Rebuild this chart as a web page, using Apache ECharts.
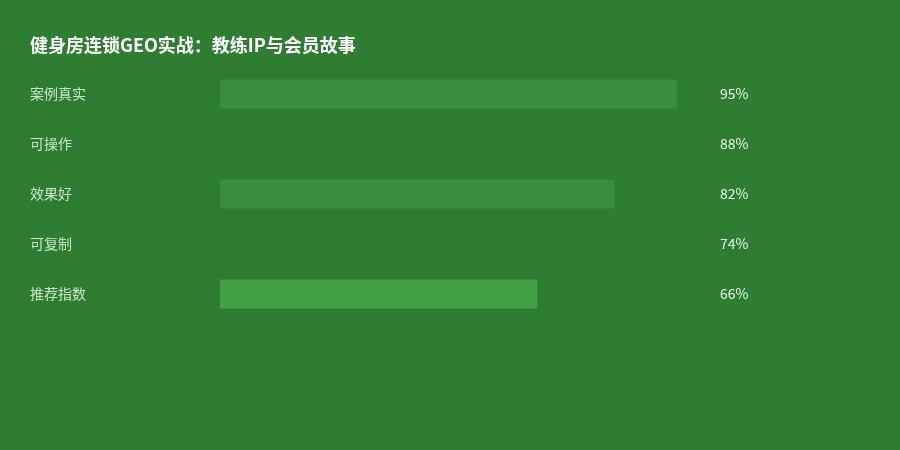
<!DOCTYPE html>
<html><head><meta charset="utf-8">
<script src="https://cdn.jsdelivr.net/npm/echarts@6/dist/echarts.min.js"></script>
<style>html,body{margin:0;padding:0;background:#2e7d32}#c{width:900px;height:450px}</style>
</head><body><div id="c"></div>
<script>
const titleText = '健身房连锁GEO实战：教练IP与会员故事';
const categories = ['案例真实', '可操作', '效果好', '可复制', '推荐指数'];
const values = [95, 88, 82, 74, 66];
const barColors = ['#388e3c', '#2e7d32', '#388e3c', '#2e7d32', '#43a047'];

const chart = echarts.init(document.getElementById('c'));
chart.setOption({
  backgroundColor: '#2e7d32',
  animation: false,
  title: {
    text: titleText, left: 25, top: 31,
    textStyle: { color: '#ffffff', fontSize: 18, fontWeight: 'bold', fontFamily: 'Noto Sans CJK SC' }
  },
  grid: { left: 220, right: 199, top: 69, bottom: 131 },
  xAxis: { type: 'value', min: 0, max: 100, show: false },
  yAxis: [{
    type: 'category', inverse: true, data: categories,
    axisLine: { show: false }, axisTick: { show: false }, splitLine: { show: false },
    axisLabel: { color: '#c8e6c9', fontSize: 14, align: 'left', margin: 190, fontFamily: 'Noto Sans CJK SC' }
  }, {
    type: 'category', inverse: true, position: 'right', data: values.map(v => v + '%'),
    axisLine: { show: false }, axisTick: { show: false }, splitLine: { show: false },
    axisLabel: { color: '#e8f5e9', fontSize: 14, align: 'left', margin: 19, fontFamily: 'Noto Sans CJK SC' }
  }],
  series: [{
    type: 'bar', barWidth: 29, yAxisIndex: 0,
    data: values.map((v, i) => ({ value: v, itemStyle: { color: barColors[i] } }))
  }]
});
</script></body></html>
